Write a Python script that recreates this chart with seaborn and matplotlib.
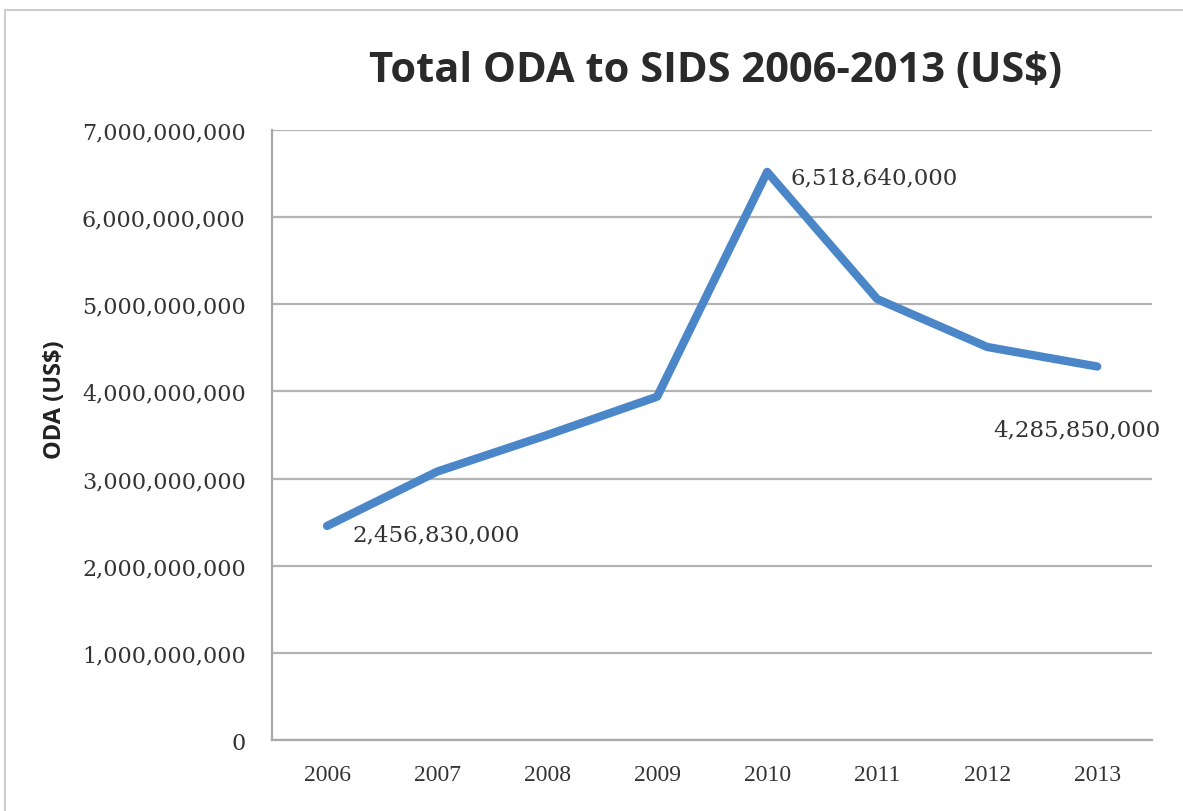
import matplotlib
matplotlib.use("Agg")
import matplotlib.pyplot as plt
import matplotlib.ticker as mticker
import seaborn as sns
import pandas as pd

years = ["2006", "2007", "2008", "2009", "2010", "2011", "2012", "2013"]
oda = [2456830000, 3080000000, 3500000000, 3940000000,
       6518640000, 5060000000, 4510000000, 4285850000]
labelled = {"2006": 2456830000, "2010": 6518640000, "2013": 4285850000}

df = pd.DataFrame({"Year": years, "ODA": oda})

sns.set_style("white")

fig = plt.figure(figsize=(11.83, 8.12), dpi=100)
ax = fig.add_axes([0.230, 0.0874, 0.744, 0.7513])

sns.lineplot(data=df, x="Year", y="ODA", ax=ax, color="#4a86c8",
             linewidth=6, sort=False)

ax.set_xlim(-0.5, len(years) - 0.5)
ax.set_ylim(0, 7e9)
ax.yaxis.set_major_locator(mticker.MultipleLocator(1e9))
ax.yaxis.set_major_formatter(mticker.FuncFormatter(lambda v, p: f"{v:,.0f}"))
ax.grid(axis="y", color="#b3b3b3", linewidth=1.6)
ax.set_axisbelow(True)

for s in ["top", "right"]:
    ax.spines[s].set_visible(False)
for s in ["left", "bottom"]:
    ax.spines[s].set_color("#a8a8a8")
    ax.spines[s].set_linewidth(1.6)

ax.tick_params(axis="y", length=5, width=1.4, color="#a8a8a8", pad=14,
               labelsize=16, labelcolor="#333333")
ax.tick_params(axis="x", length=0, pad=17, labelsize=17, labelcolor="#333333")
for lab in ax.get_yticklabels():
    lab.set_family("DejaVu Serif")
for lab in ax.get_xticklabels():
    lab.set_family("Liberation Serif")

ax.set_xlabel("")
ax.set_ylabel("ODA (US$)", fontsize=17, fontweight="bold", family="Open Sans",
              color="#222222")
ax.yaxis.set_label_coords(-0.233, 0.56)

# value annotations
offsets = {"2006": (18, -6), "2010": (17, -4), "2013": (-75, -45)}
for yr, val in labelled.items():
    dx, dy = offsets[yr]
    ax.annotate(f"{val:,}", (years.index(yr), val), xytext=(dx, dy),
                textcoords="offset points", ha="left", va="center",
                fontsize=16.5, family="DejaVu Serif", color="#333333")

fig.suptitle("Total ODA to SIDS 2006-2013 (US$)", x=0.605, y=0.937,
             fontsize=30, fontweight="bold", family="Open Sans", color="#2a2a2a")

# light border around chart area
fig.add_artist(plt.Rectangle((5 / 1183, -0.05), 1.1, 0.05 + (812 - 11) / 812,
                             transform=fig.transFigure, fill=False,
                             edgecolor="#cccccc", linewidth=1.5))

fig.savefig("out.png", dpi=100)
